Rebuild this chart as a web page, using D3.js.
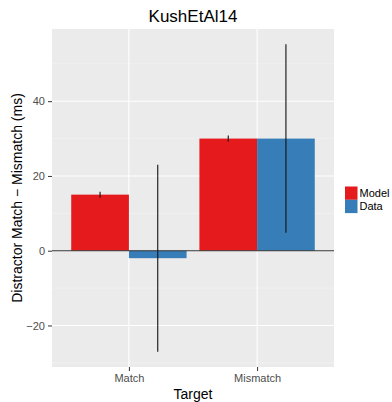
<!DOCTYPE html>
<html>
<head>
<meta charset="utf-8">
<script src="https://cdn.jsdelivr.net/npm/d3@7"></script>
<style>
  html, body { margin: 0; padding: 0; background: #fff; }
  svg { display: block; font-family: "Liberation Sans", Arial, Helvetica, sans-serif; }
</style>
</head>
<body>
<svg id="chart" width="392" height="402"></svg>
<script>
// Condition labels on the x axis
const targets = ["Match", "Mismatch"];
// Series shown side by side within each condition
const sources = ["Model", "Data"];
// Mean difference (ms) and error half-width per condition
const modelValues = [15, 30];
const modelErrors = [0.8, 0.8];
const dataValues = [-2, 30];
const dataErrors = [25, 25.2];
// Y axis ticks
const yMajorTicks = [-20, 0, 20, 40];
const yMinorTicks = [-30, -10, 10, 30, 50];

const colors = { Model: "#E41A1C", Data: "#377EB8" };

const rows = [];
targets.forEach((t, i) => {
  rows.push({ target: t, source: "Model", value: modelValues[i], err: modelErrors[i] });
  rows.push({ target: t, source: "Data", value: dataValues[i], err: dataErrors[i] });
});

const svg = d3.select("#chart");
const panel = { left: 52, right: 334, top: 29, bottom: 367 };

// Continuous y range expanded by 5% on each side
const lo = d3.min(rows, d => Math.min(d.value, d.value - d.err, 0));
const hi = d3.max(rows, d => Math.max(d.value, d.value + d.err, 0));
const pad = (hi - lo) * 0.05;
const y = d3.scaleLinear().domain([lo - pad, hi + pad]).range([panel.bottom, panel.top]);

// Discrete x with 0.6-unit expansion on each side
const x = d3.scalePoint().domain(targets).range([panel.left, panel.right]).padding(0.6);
const step = x.step();
const dodge = d3.scaleBand().domain(sources).range([-0.45 * step, 0.45 * step]);

// Panel background and grid
svg.append("rect")
  .attr("x", panel.left).attr("y", panel.top)
  .attr("width", panel.right - panel.left).attr("height", panel.bottom - panel.top)
  .attr("fill", "#EBEBEB");

const grid = svg.append("g");
grid.selectAll("line.minor").data(yMinorTicks).join("line")
  .attr("class", "minor")
  .attr("x1", panel.left).attr("x2", panel.right)
  .attr("y1", d => y(d)).attr("y2", d => y(d))
  .attr("stroke", "#F5F5F5").attr("stroke-width", 0.6);
grid.selectAll("line.majory").data(yMajorTicks).join("line")
  .attr("class", "majory")
  .attr("x1", panel.left).attr("x2", panel.right)
  .attr("y1", d => y(d)).attr("y2", d => y(d))
  .attr("stroke", "#fff").attr("stroke-width", 1.1);
grid.selectAll("line.majorx").data(targets).join("line")
  .attr("class", "majorx")
  .attr("y1", panel.top).attr("y2", panel.bottom)
  .attr("x1", d => x(d)).attr("x2", d => x(d))
  .attr("stroke", "#fff").attr("stroke-width", 1.1);

// Bars
svg.append("g").selectAll("rect").data(rows).join("rect")
  .attr("x", d => x(d.target) + dodge(d.source))
  .attr("width", dodge.bandwidth())
  .attr("y", d => Math.min(y(d.value), y(0)))
  .attr("height", d => Math.abs(y(d.value) - y(0)))
  .attr("fill", d => colors[d.source]);

// Zero reference line
svg.append("line")
  .attr("x1", panel.left).attr("x2", panel.right)
  .attr("y1", y(0)).attr("y2", y(0))
  .attr("stroke", "#333").attr("stroke-width", 1.1);

// Error bars
svg.append("g").selectAll("line").data(rows).join("line")
  .attr("x1", d => x(d.target) + dodge(d.source) + dodge.bandwidth() / 2)
  .attr("x2", d => x(d.target) + dodge(d.source) + dodge.bandwidth() / 2)
  .attr("y1", d => y(d.value + d.err))
  .attr("y2", d => y(d.value - d.err))
  .attr("stroke", "#111").attr("stroke-width", 1.1);

// Axes
const yAxis = svg.append("g")
  .attr("transform", `translate(${panel.left},0)`)
  .call(d3.axisLeft(y).tickValues(yMajorTicks).tickSize(4).tickPadding(3));
const xAxis = svg.append("g")
  .attr("transform", `translate(0,${panel.bottom})`)
  .call(d3.axisBottom(x).tickSize(4).tickPadding(3));
[yAxis, xAxis].forEach(a => {
  a.select(".domain").remove();
  a.selectAll(".tick line").attr("stroke", "#333").attr("stroke-width", 1);
  a.selectAll(".tick text").attr("fill", "#4D4D4D")
    .style("font-size", "11px").style("font-family", "'Liberation Sans', Arial, sans-serif");
});

// Titles
svg.append("text")
  .attr("x", (panel.left + panel.right) / 2).attr("y", 22)
  .attr("text-anchor", "middle").style("font-size", "17px").attr("fill", "#000")
  .text("KushEtAl14");
svg.append("text")
  .attr("x", (panel.left + panel.right) / 2).attr("y", 399)
  .attr("text-anchor", "middle").style("font-size", "14px").attr("fill", "#000")
  .text("Target");
svg.append("text")
  .attr("transform", `translate(22,${(panel.top + panel.bottom) / 2}) rotate(-90)`)
  .attr("text-anchor", "middle").style("font-size", "14px").attr("fill", "#000")
  .text("Distractor Match \u2212 Mismatch (ms)");

// Legend
const legend = svg.append("g").attr("transform", "translate(345,186.5)");
const keyH = 13.3;
sources.forEach((s, i) => {
  legend.append("rect")
    .attr("x", 0).attr("y", i * keyH)
    .attr("width", 12.5).attr("height", keyH)
    .attr("fill", colors[s]);
  legend.append("text")
    .attr("x", 14.5).attr("y", i * keyH + keyH / 2 + 4)
    .style("font-size", "11px").attr("fill", "#000")
    .text(s);
});
</script>
</body>
</html>
